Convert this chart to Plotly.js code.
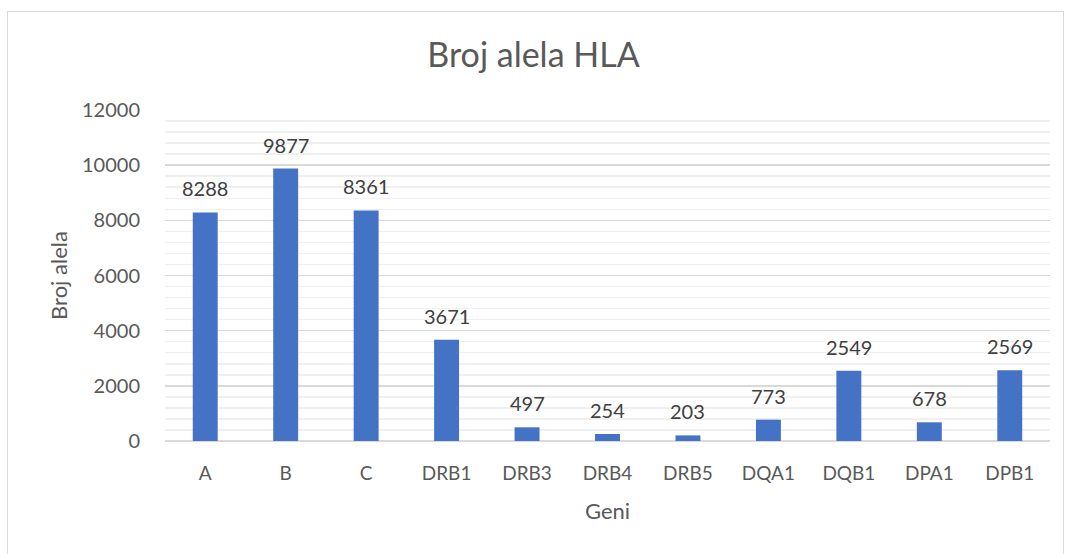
<!DOCTYPE html>
<html><head><meta charset="utf-8">
<script src="https://cdn.plot.ly/plotly-3.0.1.min.js"></script>
<style>
body{margin:0;padding:0;background:#fff;}
#chart{width:1067px;height:554px;}
#frame{position:absolute;left:7px;top:11px;width:1055px;height:560px;border:1px solid #d9d9d9;pointer-events:none;}
</style></head>
<body>
<div id="chart"></div>
<div id="frame"></div>
<script>
const categories = ["A","B","C","DRB1","DRB3","DRB4","DRB5","DQA1","DQB1","DPA1","DPB1"];
const values = [8288,9877,8361,3671,497,254,203,773,2549,678,2569];
const yTicks = [0,2000,4000,6000,8000,10000,12000];
const font = "Lato, 'Open Sans', sans-serif";
const labels = categories.map((c,i)=>({x:c,y:values[i],text:String(values[i]),xref:'x',yref:'y',
  showarrow:false,yanchor:'bottom',yshift:10,font:{family:font,size:20,color:'#404040'}}));
Plotly.newPlot('chart',[{
  type:'bar', x:categories, y:values,
  marker:{color:'#4472c4'}, hoverinfo:'x+y'
}],{
  width:1067,height:554,
  paper_bgcolor:'#fff',plot_bgcolor:'#fff',
  margin:{l:165,r:17,t:110,b:113},
  font:{family:font,color:'#595959'},
  title:{text:'Broj alela HLA',font:{family:font,size:34,color:'#595959'},x:0.5,xanchor:'center',y:0.9,yanchor:'middle'},
  bargap:0.69,
  showlegend:false,
  annotations:labels,
  xaxis:{type:'category',tickfont:{size:19,color:'#595959'},showline:false,
    ticks:'outside',ticklen:15,tickcolor:'rgba(0,0,0,0)',
    title:{text:'Geni',font:{size:22,color:'#595959'},standoff:20}},
  yaxis:{range:[0,12000],tickvals:yTicks,ticktext:yTicks.map(String),
    tickfont:{size:20,color:'#595959'},showgrid:true,gridcolor:'#d9d9d9',gridwidth:1.5,
    zeroline:true,zerolinecolor:'#d9d9d9',zerolinewidth:2,
    ticks:'outside',ticklen:20,tickcolor:'rgba(0,0,0,0)',
    minor:{dtick:400,tick0:0,showgrid:true,gridcolor:'#f0f0f0',gridwidth:1.5},
    title:{text:'Broj alela',font:{size:22,color:'#595959'},standoff:8}}
},{staticPlot:true});
</script>
</body></html>
